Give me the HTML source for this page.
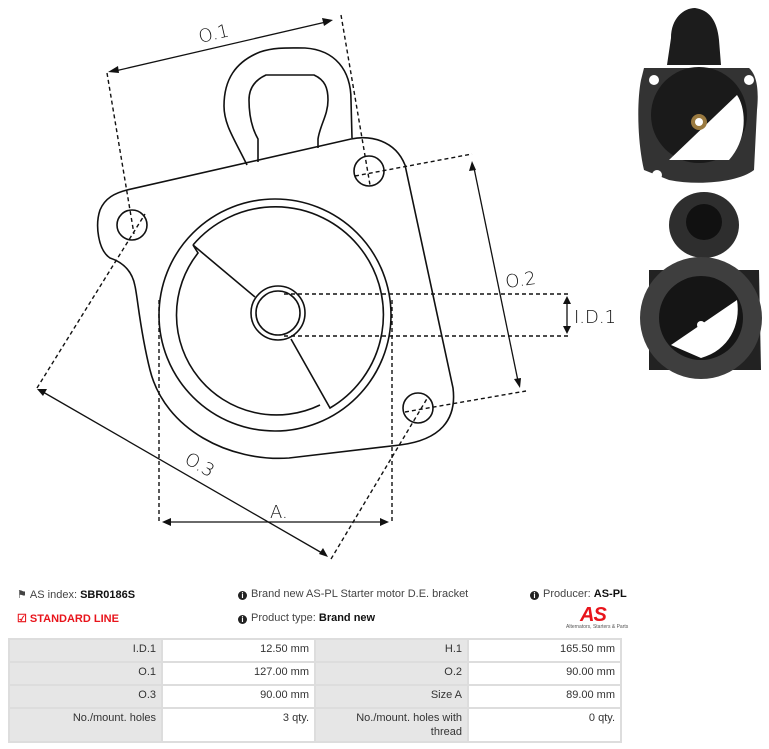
<!DOCTYPE html>
<html><head><meta charset="utf-8"><style>
body{margin:0;width:769px;height:749px;background:#fff;position:relative;overflow:hidden;font-family:"Liberation Sans Narrow","Liberation Sans",sans-serif;font-size:11px;color:#444}
.t{position:absolute;white-space:nowrap}
b{color:#111}
table{position:absolute;left:8px;top:638px;border-collapse:collapse;width:614px;table-layout:fixed}
td{border:2px solid #ddd;text-align:right;padding:2px 5px;height:17px;vertical-align:top;font-size:11px;color:#333;line-height:14px}
td.g{background:#e6e6e6}
.ic{display:inline-block;width:9px;height:9px;border-radius:50%;background:#222;color:#fff;font-size:8px;line-height:9px;text-align:center;font-weight:bold;vertical-align:-1px;margin-right:4px}
</style></head><body>
<svg width="630" height="570" style="position:absolute;left:0;top:0" fill="none" stroke="#111" stroke-width="1.6">
<path d="M247,165 C235,140 224,125 224,106 C224,80 235,62 260,52 C275,47 289,48 305,48 C335,50 351,70 351,100 L352,138"/>
<path d="M258,162 L258,139 C250,125 249,110 249,100 C249,88 255,80 266,75 L314,75 C325,80 328,88 328,100 C328,115 320,125 318,139 L318,148"/>
<path d="M127,190 L351,139 C370,135 395,140 405,165 L453,388 C457,420 440,440 400,445 L289,458 C230,462 165,430 150,370 C140,330 138,300 135,286 C132,270 122,262 110,258 C98,250 95,225 100,210 C105,198 115,193 127,190 Z"/>
<circle cx="132" cy="225" r="15"/>
<circle cx="369" cy="171" r="15"/>
<circle cx="418" cy="408" r="15"/>
<circle cx="275" cy="315" r="116"/>
<path d="M193,245 A108,108 0 1 1 330,408 L291,339"/>
<path d="M320,405 A100,100 0 0 1 198,253 L193,245 L255,297"/>
<circle cx="278" cy="313" r="27"/>
<circle cx="278" cy="313" r="22"/>
<g stroke-width="1.4" stroke-dasharray="4,3">
<path d="M107,73 L134,234"/><path d="M341,15 L370,185"/>
<path d="M355,176 L472,154"/><path d="M405,412 L526,391"/>
<path d="M37,388 L145,214"/><path d="M331,559 L428,397"/>
<path d="M159,300 L159,522"/><path d="M392,300 L392,522"/>
<path d="M284,294 L570,294"/><path d="M284,336 L570,336"/>
</g>
<g stroke-width="1.3">
<path d="M115,71 L326,22"/><path d="M474,168 L518,381"/><path d="M43,392 L322,553"/><path d="M169,522 L382,522"/><path d="M567,302 L567,329"/>
</g>
<g fill="#111" stroke="none">
<path d="M108,72 l10,-6 l1,7z"/><path d="M333,20 l-11,-2 l2,8z"/>
<path d="M472,161 l-3,10 l7,-1z"/><path d="M520,388 l-6,-9 l7,-1z"/>
<path d="M37,389 l10,0 l-4,7z"/><path d="M328,557 l-5,-9 l-4,6z"/>
<path d="M162,522 l9,-4 l0,8z"/><path d="M389,522 l-9,-4 l0,8z"/>
<path d="M567,296 l-4,8 l8,0z"/><path d="M567,334 l-4,-8 l8,0z"/>
</g>
<g fill="#111" stroke="none" font-family="DejaVu Sans,sans-serif" font-size="18" font-weight="200">
<text x="198" y="40" transform="rotate(-13 212 32)">O.1</text>
<text x="505" y="286" transform="rotate(-8 520 278)">O.2</text>
<text x="184" y="470" transform="rotate(30 198 465)">O.3</text>
<text x="270" y="518">A.</text>
<text x="574" y="323">I.D.1</text>
</g>
</svg>
<svg width="140" height="400" style="position:absolute;left:629px;top:0">
<path d="M42,38 C42,18 55,8 66,8 C80,10 88,20 90,40 L92,65 L38,65 Z" fill="#1c1c1c"/>
<path d="M15,68 L120,68 C128,75 130,90 128,110 L125,170 C110,182 70,186 40,180 L15,170 C8,140 8,100 12,80 Z" fill="#333"/>
<circle cx="70" cy="115" r="48" fill="#1a1a1a"/>
<path d="M40,160 L108,95 C118,110 118,140 100,160 Z" fill="#fff"/>
<circle cx="70" cy="122" r="8" fill="#9a7a40"/><circle cx="70" cy="122" r="4" fill="#fff"/>
<circle cx="25" cy="80" r="5" fill="#fff"/><circle cx="120" cy="80" r="5" fill="#fff"/><circle cx="28" cy="175" r="5" fill="#fff"/>
<ellipse cx="75" cy="225" rx="35" ry="33" fill="#2e2e2e"/><circle cx="75" cy="222" r="18" fill="#111"/>
<path d="M20,270 L130,270 L132,370 L20,370 Z" fill="#222"/>
<circle cx="72" cy="318" r="61" fill="#3e3e3e"/>
<circle cx="72" cy="318" r="42" fill="#151515"/>
<path d="M42,345 L108,300 C112,325 100,350 72,358 Z" fill="#fff"/>
<circle cx="72" cy="325" r="4" fill="#fff"/>
</svg>
<div class="t" style="left:17px;top:588px">&#9873;&nbsp;AS index: <b>SBR0186S</b></div>
<div class="t" style="left:17px;top:612px;color:#e8141b;font-weight:bold">&#9745; STANDARD LINE</div>
<div class="t" style="left:238px;top:588px"><span class="ic">i</span>Brand new AS-PL Starter motor D.E. bracket</div>
<div class="t" style="left:238px;top:612px"><span class="ic">i</span>Product type: <b>Brand new</b></div>
<div class="t" style="left:530px;top:588px"><span class="ic">i</span>Producer: <b>AS-PL</b></div>
<div class="t" style="left:580px;top:604px;color:#e8141b;font-weight:bold;font-style:italic;font-size:20px;letter-spacing:-1px">AS</div>
<div class="t" style="left:566px;top:624px;font-size:5px;color:#555">Alternators, Starters &amp; Parts</div>
<table>
<tr><td class="g">I.D.1</td><td>12.50 mm</td><td class="g">H.1</td><td>165.50 mm</td></tr>
<tr><td class="g">O.1</td><td>127.00 mm</td><td class="g">O.2</td><td>90.00 mm</td></tr>
<tr><td class="g">O.3</td><td>90.00 mm</td><td class="g">Size A</td><td>89.00 mm</td></tr>
<tr><td class="g" style="height:28px">No./mount. holes</td><td>3 qty.</td><td class="g">No./mount. holes with<br>thread</td><td>0 qty.</td></tr>
</table>
</body></html>
